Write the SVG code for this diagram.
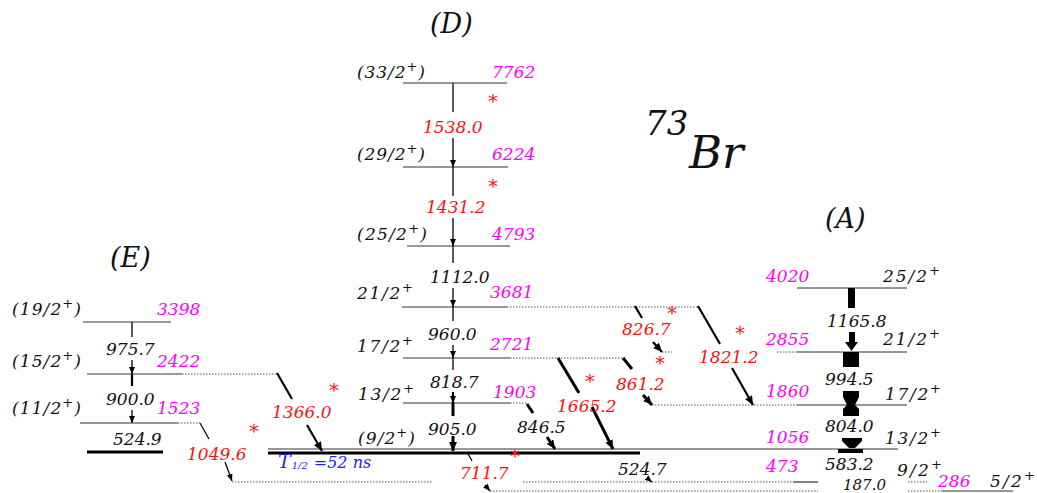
<svg xmlns="http://www.w3.org/2000/svg" width="1037" height="493" viewBox="0 0 1037 493">
<style>
text{font-family:"DejaVu Serif","Liberation Serif",serif;font-style:italic}
.t{font-size:17px;fill:#111}
.e{font-size:17px;fill:#ff00ff}
.r{font-size:17px;fill:#ff1010}
.ast{font-size:19px;fill:#ff1010;font-style:normal;text-anchor:middle}
.sup{font-size:13px}
.band{font-size:27px;fill:#111}
.lv{stroke:#333;stroke-width:1.2;fill:none}
.dot{stroke:#555;stroke-width:1;stroke-dasharray:1.5 1.5;fill:none}
.tr{stroke:#000;stroke-width:1.3;fill:none}
.tr2{stroke:#000;stroke-width:2.2;fill:none}
.tr3{stroke:#000;stroke-width:3;fill:none}
.blk{fill:#000}
</style>
<defs>
<marker id="ah" markerUnits="userSpaceOnUse" markerWidth="9" markerHeight="8" refX="9" refY="4" orient="auto"><path d="M0,0 L9,4 L0,8 z" fill="#000"/></marker>
<marker id="ahs" markerUnits="userSpaceOnUse" markerWidth="7" markerHeight="6" refX="7" refY="3" orient="auto"><path d="M0,0 L7,3 L0,6 z" fill="#000"/></marker>
</defs>
<rect width="1037" height="493" fill="#fff"/>

<!-- titles -->
<g id="title">
<text x="645" y="135" style="font-size:34px;fill:#111">73</text>
<text x="689" y="168" style="font-size:45px;fill:#111">Br</text>
</g>
<text id="bandE" class="band" x="110" y="267">(E)</text>
<text id="bandD" class="band" x="430" y="33">(D)</text>
<text id="bandA" class="band" x="825" y="228">(A)</text>

<!-- Band E -->
<g id="E3398">
<line class="lv" x1="83" y1="322" x2="171" y2="322"/>
<text class="t" x="12" y="315" textLength="69" lengthAdjust="spacing">(19/2<tspan class="sup" dy="-7">+</tspan><tspan dy="7">)</tspan></text>
<text class="e" x="157" y="315">3398</text>
</g>
<g id="E2422">
<line class="lv" x1="87" y1="374" x2="182" y2="374"/>
<line class="dot" x1="182" y1="374" x2="277" y2="374"/>
<text class="t" x="12" y="367" textLength="69" lengthAdjust="spacing">(15/2<tspan class="sup" dy="-7">+</tspan><tspan dy="7">)</tspan></text>
<text class="e" x="157" y="367">2422</text>
</g>
<g id="E1523">
<line class="lv" x1="80" y1="423" x2="178" y2="423"/>
<line class="dot" x1="178" y1="423" x2="200" y2="423"/>
<text class="t" x="12" y="414" textLength="69" lengthAdjust="spacing">(11/2<tspan class="sup" dy="-7">+</tspan><tspan dy="7">)</tspan></text>
<text class="e" x="157" y="414">1523</text>
</g>
<g id="E524">
<line x1="87" y1="452" x2="163" y2="452" stroke="#000" stroke-width="3"/>
<text class="t" x="113" y="445">524.9</text>
</g>

<!-- Band D -->
<g id="D7762">
<line class="lv" x1="403" y1="83" x2="507" y2="83"/>
<text class="t" x="357" y="78" textLength="68" lengthAdjust="spacing">(33/2<tspan class="sup" dy="-7">+</tspan><tspan dy="7">)</tspan></text>
<text class="e" x="492" y="78">7762</text>
</g>
<g id="D6224">
<line class="lv" x1="403" y1="167" x2="508" y2="167"/>
<text class="t" x="357" y="160" textLength="68" lengthAdjust="spacing">(29/2<tspan class="sup" dy="-7">+</tspan><tspan dy="7">)</tspan></text>
<text class="e" x="492" y="160">6224</text>
</g>
<g id="D4793">
<line class="lv" x1="407" y1="246" x2="510" y2="246"/>
<text class="t" x="357" y="240" textLength="70" lengthAdjust="spacing">(25/2<tspan class="sup" dy="-7">+</tspan><tspan dy="7">)</tspan></text>
<text class="e" x="492" y="240">4793</text>
</g>
<g id="D3681">
<line class="lv" x1="402" y1="307" x2="507" y2="307"/>
<line class="dot" x1="507" y1="307" x2="698" y2="307"/>
<text class="t" x="357" y="299" textLength="56" lengthAdjust="spacing">21/2<tspan class="sup" dy="-7">+</tspan></text>
<text class="e" x="490" y="298">3681</text>
</g>
<g id="D2721">
<line class="lv" x1="403" y1="358" x2="510" y2="358"/>
<line class="dot" x1="510" y1="358" x2="625" y2="358"/>
<text class="t" x="357" y="352" textLength="56" lengthAdjust="spacing">17/2<tspan class="sup" dy="-7">+</tspan></text>
<text class="e" x="490" y="350">2721</text>
</g>
<g id="D1903">
<line class="lv" x1="403" y1="403" x2="510" y2="403"/>
<line class="dot" x1="510" y1="403" x2="527" y2="403"/>
<text class="t" x="358" y="400" textLength="56" lengthAdjust="spacing">13/2<tspan class="sup" dy="-7">+</tspan></text>
<text class="e" x="493" y="398">1903</text>
</g>
<g id="D9_2">
<line x1="268" y1="449" x2="898" y2="449" stroke="#333" stroke-width="1.2"/>
<line x1="268" y1="453" x2="640" y2="453" stroke="#000" stroke-width="3.2"/>
<text class="t" x="358" y="444" textLength="57" lengthAdjust="spacing">(9/2<tspan class="sup" dy="-7">+</tspan><tspan dy="7">)</tspan></text>
<text x="278" y="468" style="font-size:19px;fill:#2222ee">T<tspan style="font-size:10px" dx="1" dy="1">1/2</tspan><tspan dx="6" dy="-1" style="font-size:16px">=52  ns</tspan></text>
</g>

<!-- Band A -->
<g id="A4020">
<line class="lv" x1="797" y1="288" x2="907" y2="288"/>
<text class="e" x="766" y="282">4020</text>
<text class="t" x="883" y="282" textLength="57" lengthAdjust="spacing">25/2<tspan class="sup" dy="-7">+</tspan></text>
</g>
<g id="A2855">
<line class="dot" x1="662" y1="352" x2="672" y2="352"/>
<line class="dot" x1="777" y1="352" x2="797" y2="352"/>
<line class="lv" x1="797" y1="352" x2="907" y2="352"/>
<text class="e" x="766" y="345">2855</text>
<text class="t" x="883" y="345" textLength="57" lengthAdjust="spacing">21/2<tspan class="sup" dy="-7">+</tspan></text>
</g>
<g id="A1860">
<line class="dot" x1="652" y1="405" x2="797" y2="405"/>
<line class="lv" x1="797" y1="405" x2="907" y2="405"/>
<text class="e" x="766" y="397">1860</text>
<text class="t" x="885" y="400" textLength="56" lengthAdjust="spacing">17/2<tspan class="sup" dy="-7">+</tspan></text>
</g>
<g id="A1056">
<text class="e" x="766" y="443">1056</text>
<text class="t" x="885" y="444" textLength="56" lengthAdjust="spacing">13/2<tspan class="sup" dy="-7">+</tspan></text>
</g>
<g id="A473">
<line class="dot" x1="232" y1="482" x2="433" y2="482"/>
<line class="dot" x1="523" y1="482" x2="793" y2="482"/>
<line class="lv" x1="793" y1="482" x2="818" y2="482"/>
<line class="dot" x1="908" y1="482" x2="927" y2="482"/>
<text class="e" x="766" y="472">473</text>
<text class="t" x="897" y="476" textLength="45" lengthAdjust="spacing">9/2<tspan class="sup" dy="-7">+</tspan></text>
</g>
<g id="A286">
<line class="dot" x1="490" y1="491" x2="818" y2="491"/>
<line class="dot" x1="908" y1="491" x2="942" y2="491"/>
<line class="lv" x1="942" y1="491" x2="1013" y2="491"/>
<text class="e" x="938" y="487">286</text>
<text class="t" x="990" y="487" textLength="45" lengthAdjust="spacing">5/2<tspan class="sup" dy="-7">+</tspan></text>
</g>

<!-- connectors -->
<g id="connectors">
<!-- E band -->
<line class="tr" x1="132" y1="322" x2="132" y2="337"/>
<line class="tr" x1="132" y1="360" x2="132" y2="374" marker-end="url(#ahs)"/>
<line class="tr2" x1="132" y1="374" x2="132" y2="386"/>
<line class="tr" x1="132" y1="410" x2="132" y2="423" marker-end="url(#ahs)"/>
<line class="tr" x1="200" y1="423" x2="209" y2="439"/>
<line class="tr" x1="225" y1="462" x2="232" y2="481" marker-end="url(#ahs)"/>
<line class="tr2" x1="277" y1="373" x2="292" y2="399"/>
<line class="tr2" x1="307" y1="425" x2="322" y2="451" marker-end="url(#ah)"/>
<!-- D band -->
<line class="tr" x1="453" y1="83" x2="453" y2="112"/>
<line class="tr" x1="453" y1="138" x2="453" y2="167" marker-end="url(#ahs)"/>
<line class="tr" x1="453" y1="167" x2="453" y2="196"/>
<line class="tr" x1="453" y1="218" x2="453" y2="246" marker-end="url(#ahs)"/>
<line class="tr" x1="453" y1="246" x2="453" y2="263"/>
<line class="tr" x1="453" y1="288" x2="453" y2="307" marker-end="url(#ahs)"/>
<line class="tr" x1="453" y1="307" x2="453" y2="321"/>
<line class="tr" x1="453" y1="345" x2="453" y2="358" marker-end="url(#ahs)"/>
<line class="tr" x1="453" y1="358" x2="453" y2="370"/>
<line class="tr2" x1="453" y1="392" x2="453" y2="403" marker-end="url(#ahs)"/>
<line class="tr3" x1="453" y1="403" x2="453" y2="416"/>
<line class="tr3" x1="453" y1="436" x2="453" y2="451" marker-end="url(#ah)"/>
<line class="tr" x1="467" y1="452" x2="472" y2="461"/>
<line class="tr" x1="485" y1="485" x2="490" y2="491" marker-end="url(#ahs)"/>
<line class="tr3" x1="527" y1="404" x2="533" y2="413"/>
<line class="tr3" x1="547" y1="437" x2="555" y2="449" marker-end="url(#ah)"/>
<line class="tr3" x1="558" y1="358" x2="579" y2="393"/>
<line class="tr3" x1="592" y1="407" x2="613" y2="449" marker-end="url(#ah)"/>
<line class="tr3" x1="623" y1="358" x2="632" y2="369"/>
<line class="tr3" x1="643" y1="395" x2="652" y2="405" marker-end="url(#ah)"/>
<line class="tr2" x1="635" y1="306" x2="642" y2="318"/>
<line class="tr2" x1="653" y1="342" x2="662" y2="352" marker-end="url(#ah)"/>
<line class="tr2" x1="698" y1="306" x2="720" y2="344"/>
<line class="tr2" x1="732" y1="368" x2="753" y2="405" marker-end="url(#ah)"/>
<line class="tr" x1="647" y1="478" x2="652" y2="482" marker-end="url(#ahs)"/>
<!-- A band -->
<rect class="blk" x="848" y="288" width="7" height="20"/>
<path class="blk" d="M849,332 H855 V342 H858 L851.5,351 L845,342 H849 Z"/>
<rect class="blk" x="843" y="352" width="16" height="15"/>
<path class="blk" d="M843,391 H859 V397 L855,405 H847 L843,397 Z"/>
<path class="blk" d="M847,405 H855 L859,409 V416 H843 V409 Z"/>
<path class="blk" d="M842,438 H862 V441 L855,448 H849 L842,441 Z"/>
<rect class="blk" x="838" y="449" width="25" height="4"/>
</g>

<!-- transition labels -->
<g id="labels">
<text class="t" x="106" y="355">975.7</text>
<text class="t" x="106" y="405">900.0</text>
<text class="r" x="187" y="460">1049.6</text>
<text class="ast" x="254" y="438">*</text>
<text class="r" x="272" y="418">1366.0</text>
<text class="ast" x="334" y="397">*</text>
<text class="r" x="423" y="133">1538.0</text>
<text class="ast" x="493" y="108">*</text>
<text class="r" x="426" y="213">1431.2</text>
<text class="ast" x="493" y="193">*</text>
<text class="t" x="430" y="283">1112.0</text>
<text class="t" x="428" y="340">960.0</text>
<text class="t" x="430" y="388">818.7</text>
<text class="t" x="428" y="435">905.0</text>
<text class="r" x="460" y="479">711.7</text>
<text class="ast" x="515" y="463">*</text>
<text class="t" x="517" y="433">846.5</text>
<text class="r" x="557" y="412">1665.2</text>
<text class="ast" x="590" y="388">*</text>
<text class="r" x="616" y="390">861.2</text>
<text class="ast" x="660" y="370">*</text>
<text class="r" x="622" y="335">826.7</text>
<text class="ast" x="672" y="320">*</text>
<text class="r" x="699" y="363">1821.2</text>
<text class="ast" x="740" y="340">*</text>
<text class="t" x="618" y="475">524.7</text>
<text class="t" x="827" y="327">1165.8</text>
<text class="t" x="825" y="385">994.5</text>
<text class="t" x="825" y="432">804.0</text>
<text class="t" x="825" y="470">583.2</text>
<text class="t" x="843" y="489.5" style="font-size:15px">187.0</text>
</g>
</svg>
